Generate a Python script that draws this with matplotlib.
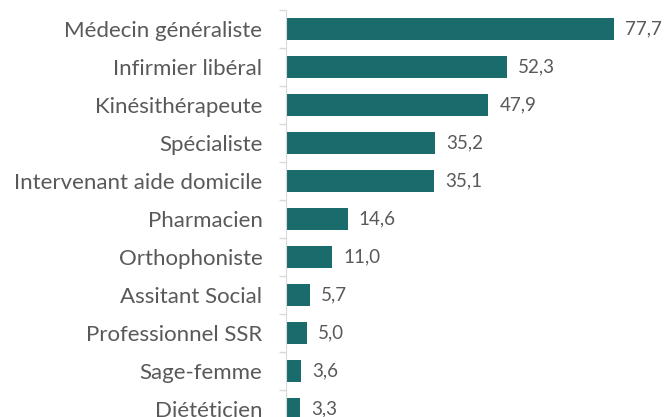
import numpy as np
import matplotlib.pyplot as plt

plt.rcParams['font.family'] = ['Lato', 'DejaVu Sans']

categories = ['Médecin généraliste', 'Infirmier libéral', 'Kinésithérapeute',
              'Spécialiste', 'Intervenant aide domicile', 'Pharmacien',
              'Orthophoniste', 'Assitant Social', 'Professionnel SSR',
              'Sage-femme', 'Diététicien']
values = [77.7, 52.3, 47.9, 35.2, 35.1, 14.6, 11.0, 5.7, 5.0, 3.6, 3.3]

bar_color = '#1a6b6b'
text_color = '#595959'

fig = plt.figure(figsize=(6.64, 4.17), dpi=100)
# axes spans category band from y=10px to y=428px (bottom is cropped like the original)
ax = fig.add_axes([286 / 664, (417 - 428) / 417, 380 / 664, 418 / 417])

y = np.arange(len(categories))
ax.barh(y, values, height=0.58, color=bar_color)
ax.set_ylim(len(categories) - 0.5, -0.5)
ax.set_xlim(0, 90)

for yi, v in zip(y, values):
    ax.annotate(f'{v:.1f}'.replace('.', ','), (v, yi), xytext=(8, 0),
                textcoords='offset points', va='center', ha='left',
                fontsize=13.5, color=text_color)

ax.set_yticks(y)
ax.set_yticklabels(categories, fontsize=16, color=text_color)
ax.tick_params(axis='y', which='major', length=0, pad=17)
ax.set_yticks(np.arange(len(categories) + 1) - 0.5, minor=True)
ax.tick_params(axis='y', which='minor', length=5, color='#d9d9d9', width=1)

ax.set_xticks([])
for s in ['top', 'right', 'bottom']:
    ax.spines[s].set_visible(False)
ax.spines['left'].set_color('#d9d9d9')

fig.savefig('out.png', dpi=100)
plt.close()
